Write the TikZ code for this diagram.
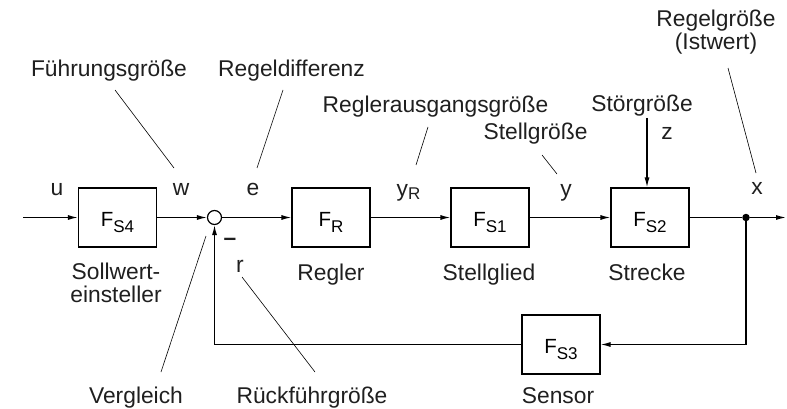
\documentclass[tikz,border=0pt]{standalone}
\usepackage{fontspec}
\setmainfont{Liberation Sans}
\usetikzlibrary{arrows.meta}
\newcommand\lblfnt{\fontsize{22.8}{23}\selectfont}
\newcommand\blkfnt{\fontsize{20.5}{22}\selectfont}
\newcommand\subfnt{\fontsize{17}{17}\selectfont}
\begin{document}
\begin{tikzpicture}[x=1pt,y=-1pt,
  blk/.style={draw, line width=1.2pt, minimum width=78pt, minimum height=59pt, inner sep=0pt, font=\blkfnt, text height=20pt, text depth=3pt},
  lbl/.style={anchor=base, inner sep=0pt, font=\lblfnt, text=black!88},
  sig/.style={line width=1.2pt, -{Latex[length=10pt,width=5pt]}},
  wire/.style={line width=1.2pt},
  lead/.style={line width=0.6pt},
]
\useasboundingbox (0,0) rectangle (787,409);

% blocks
\node[blk] (fs4) at (117.5,217.5) {F\raisebox{-6pt}{\subfnt S4}};
\node[blk] (fr)  at (331,217.5)   {F\raisebox{-6pt}{\subfnt R}};
\node[blk] (fs1) at (490,217.5)   {F\raisebox{-6pt}{\subfnt S1}};
\node[blk] (fs2) at (650,217.5)   {F\raisebox{-6pt}{\subfnt S2}};
\node[blk] (fs3) at (561,344.5)   {F\raisebox{-6pt}{\subfnt S3}};
\node[circle, draw, line width=1.2pt, minimum size=14pt, inner sep=0pt] (sum) at (214.5,217.5) {};
\node[circle, fill, minimum size=7.5pt, inner sep=0pt] (dot) at (746,217.5) {};

% signal labels
\node[lbl] (u) at (57,195) {u};
\node[lbl] (w) at (181,195) {w};
\node[lbl] (e) at (253,195) {e};
\node[lbl] (yR) at (408.5,196) {y\raisebox{-3.5pt}{\subfnt R}};
\node[lbl] (y) at (566,196) {y};
\node[lbl] (x) at (757,194) {x};
\node[lbl] (z) at (667,140) {z};
\node[lbl] (r) at (240,272) {r};
\node[lbl] (minus) at (230,245) {\textbf{–}};

% descriptive labels
\node[lbl] (fg) at (109,77) {Führungsgröße};
\node[lbl] (rd) at (291.5,77) {Regeldifferenz};
\node[lbl] (rag) at (435.5,113) {Reglerausgangsgröße};
\node[lbl] (sg) at (642,112) {Störgröße};
\node[lbl] (stg) at (535.5,140) {Stellgröße};
\node[lbl, align=center] (rg) at (716,50) {Regelgröße\\(Istwert)};
\node[lbl, align=center] (sw) at (116,302) {Sollwert-\\einsteller};
\node[lbl] (regl) at (331,280) {Regler};
\node[lbl] (stgl) at (489,280) {Stellglied};
\node[lbl] (str) at (647,280) {Strecke};
\node[lbl] (sens) at (558,403) {Sensor};
\node[lbl] (vg) at (136,403) {Vergleich};
\node[lbl] (rfg) at (312,403) {Rückführgröße};

% leader lines
\coordinate (fgA) at (115,90);   \coordinate (fgB) at (174,168);
\coordinate (rdA) at (283,90);   \coordinate (rdB) at (257,168);
\coordinate (ragA) at (428,127); \coordinate (ragB) at (416,165);
\coordinate (stgA) at (542,155); \coordinate (stgB) at (557,174);
\coordinate (rgA) at (728,68);   \coordinate (rgB) at (756,173);
\coordinate (vgA) at (206,236);  \coordinate (vgB) at (161,372);
\coordinate (rfA) at (242,277);  \coordinate (rfB) at (315,372);
\draw[lead] (fgA) -- (fgB);
\draw[lead] (rdA) -- (rdB);
\draw[lead] (ragA) -- (ragB);
\draw[lead] (stgA) -- (stgB);
\draw[lead] (rgA) -- (rgB);
\draw[lead] (vgA) -- (vgB);
\draw[lead] (rfA) -- (rfB);

% signal paths
\coordinate (in) at (23,217.5);
\coordinate (out) at (786,217.5);
\coordinate (ztop) at (647,118);
\draw[sig] (in) -- (fs4);
\draw[sig] (fs4) -- (sum);
\draw[sig] (sum) -- (fr);
\draw[sig] (fr) -- (fs1);
\draw[sig] (fs1) -- (fs2);
\draw[wire] (fs2) -- (dot);
\draw[sig] (dot) -- (out);
\draw[sig] (dot) |- (fs3);
\draw[sig] (fs3) -| (sum);
\draw[sig] (ztop) -- (ztop |- fs2.north);
\end{tikzpicture}
\end{document}
